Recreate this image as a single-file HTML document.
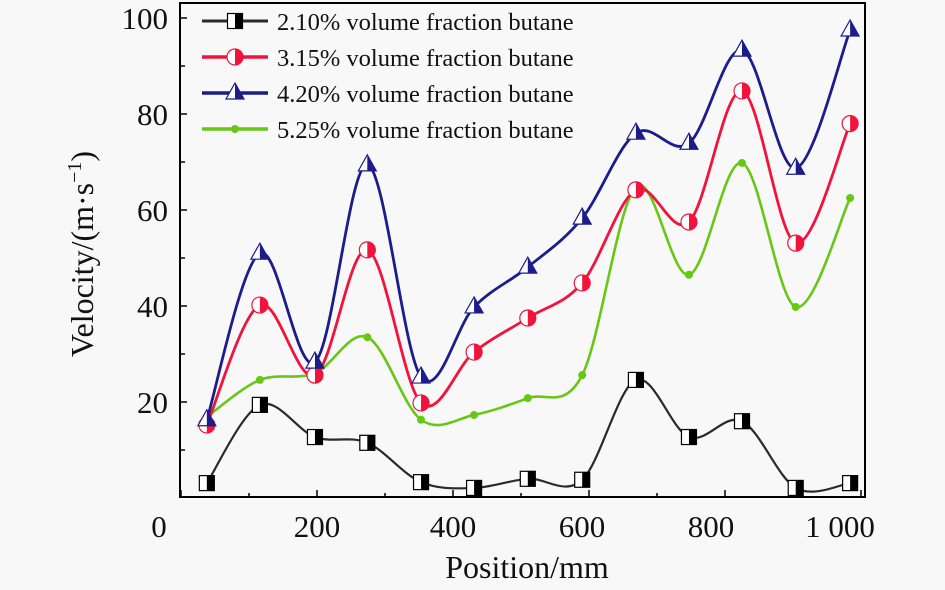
<!DOCTYPE html>
<html><head><meta charset="utf-8">
<style>
html,body{margin:0;padding:0;background:#f8f8f8;}
svg{display:block;font-family:"Liberation Serif",serif;}
</style></head>
<body>
<svg id="chart" width="945" height="590" viewBox="0 0 945 590">
<rect x="0" y="0" width="945" height="590" fill="#f8f8f8"/>
<g id="plot"></g>
</svg>
<script>
const positions=[38,116,197,274,353,431,510,590,669,747,825,904,984];
const s210=[3.1,19.4,12.7,11.5,3.3,2.1,4.0,3.8,24.6,12.7,16.0,2.1,3.1];
const s315=[15.2,40.2,25.6,51.7,19.8,30.4,37.5,44.8,64.2,57.5,84.8,53.1,78.0];
const s420=[16.3,51.0,28.3,69.4,25.2,39.8,48.1,58.3,76.0,73.9,93.3,68.7,97.5];
const s525=[16.9,24.6,26.0,33.5,16.3,17.3,20.8,25.6,64.8,46.5,69.8,39.8,62.5];
const xTicks=[0,200,400,600,800,1000];
const xTickLabels=["0","200","400","600","800","1 000"];
const yTicks=[20,40,60,80,100];
const yTickLabels=["20","40","60","80","100"];
const seriesNames=["2.10% volume fraction butane","3.15% volume fraction butane","4.20% volume fraction butane","5.25% volume fraction butane"];

const NS="http://www.w3.org/2000/svg";
const L=180,R=865,T=3,B=497;
const X=v=>181+v*0.68;
const Y=v=>498-v*4.8;
const g=document.getElementById('plot');
function mk(tag,attrs,parent){const e=document.createElementNS(NS,tag);for(const k in attrs)e.setAttribute(k,attrs[k]);(parent||g).appendChild(e);return e;}

const frame=mk('rect',{x:L,y:T,width:R-L,height:B-T,fill:'none',stroke:'#000','stroke-width':2});



xTicks.forEach((t,i)=>{
  const tk=mk('line',{x1:X(t),x2:X(t),y1:B,y2:B-7,stroke:'#000','stroke-width':1.5});
  
  
  const lx=i===0?159:X(t)-Math.max(0,t-400)*0.035;
  const tx=mk('text',{x:lx,y:537,'text-anchor':'middle','font-size':31,fill:'#111'});
  tx.textContent=xTickLabels[i];
  
  
});
for(let t=100;t<1000;t+=200){
  const tk=mk('line',{x1:X(t),x2:X(t),y1:B,y2:B-4,stroke:'#000','stroke-width':1.5});
  
  
}
yTicks.forEach((t,i)=>{
  const tk=mk('line',{x1:L,x2:L+7,y1:Y(t),y2:Y(t),stroke:'#000','stroke-width':1.5});
  
  
  const tx=mk('text',{x:168,y:Y(t)+11,'text-anchor':'end','font-size':31,fill:'#111'});
  tx.textContent=yTickLabels[i];
  
  
});
for(let t=10;t<100;t+=20){
  const tk=mk('line',{x1:L,x2:L+5,y1:Y(t),y2:Y(t),stroke:'#000','stroke-width':1.5});
  
  
}
const xt=mk('text',{x:527,y:578,'text-anchor':'middle','font-size':32,fill:'#111'});
xt.textContent='Position/mm';


const yt=mk('text',{x:0,y:0,'text-anchor':'middle','font-size':32,fill:'#111',transform:'translate(93,254) rotate(-90)'});
yt.innerHTML='Velocity/(m·s<tspan dy="-12" font-size="20">−1</tspan><tspan dy="12">)</tspan>';



function spline(pts){
  let d=`M${pts[0][0]},${pts[0][1]}`;
  for(let i=0;i<pts.length-1;i++){
    const p0=pts[Math.max(i-1,0)],p1=pts[i],p2=pts[i+1],p3=pts[Math.min(i+2,pts.length-1)];
    const c1=[p1[0]+(p2[0]-p0[0])/6,p1[1]+(p2[1]-p0[1])/6];
    const c2=[p2[0]-(p3[0]-p1[0])/6,p2[1]-(p3[1]-p1[1])/6];
    d+=` C${c1[0]},${c1[1]} ${c2[0]},${c2[1]} ${p2[0]},${p2[1]}`;
  }
  return d;
}
function marker(kind,cx,cy,color,parent){
  const gm=mk('g',{},parent);
  if(kind==='square'){
    mk('rect',{x:cx-7.5,y:cy-7.5,width:15,height:15,fill:'#fff',stroke:'#000','stroke-width':1.2},gm);
    mk('rect',{x:cx,y:cy-7.5,width:7.5,height:15,fill:'#000'},gm);
  }else if(kind==='circle'){
    mk('circle',{cx:cx,cy:cy,r:8,fill:'#fff',stroke:color,'stroke-width':1.2},gm);
    mk('path',{d:`M${cx},${cy-8} A8,8 0 0 1 ${cx},${cy+8} Z`,fill:color},gm);
  }else if(kind==='tri'){
    mk('path',{d:`M${cx},${cy-10} L${cx+9},${cy+6} L${cx-9},${cy+6} Z`,fill:'#fff',stroke:color,'stroke-width':1.2},gm);
    mk('path',{d:`M${cx},${cy-10} L${cx+9},${cy+6} L${cx},${cy+6} Z`,fill:color},gm);
  }else{
    mk('circle',{cx:cx,cy:cy,r:4,fill:color},gm);
  }
  return gm;
}
const cfg=[
  {data:s210,color:'#2a2a2a',kind:'square',w:2.2,name:'series-2-10'},
  {data:s315,color:'#f0143c',kind:'circle',w:2.8,name:'series-3-15'},
  {data:s420,color:'#1c1c8a',kind:'tri',w:2.8,name:'series-4-20'},
  {data:s525,color:'#66c814',kind:'dot',w:2.6,name:'series-5-25'}
];
const drawOrder=[3,1,2,0];
drawOrder.forEach(si=>{
  const c=cfg[si];
  const sg=mk('g',{});
  
  
  const pts=c.data.map((v,i)=>[X(positions[i]),Y(v)]);
  const p=mk('path',{d:spline(pts),fill:'none',stroke:c.color,'stroke-width':c.w},sg);
  
  
  pts.forEach(pt=>{
    const m=marker(c.kind,pt[0],pt[1],c.color,sg);
    
    
  });
});
const lg=mk('g',{});


const rowsY=[21,57,93,129];
cfg.forEach((c,i)=>{
  const eg=mk('g',{},lg);
  
  
  mk('line',{x1:202,x2:268,y1:rowsY[i],y2:rowsY[i],stroke:c.color,'stroke-width':c.w+0.8},eg);
  marker(c.kind,235,rowsY[i],c.color,eg);
  const t=mk('text',{x:277,y:rowsY[i]+9,'font-size':24.5,fill:'#111'},eg);
  t.textContent=seriesNames[i];
});
</script>
</body></html>
